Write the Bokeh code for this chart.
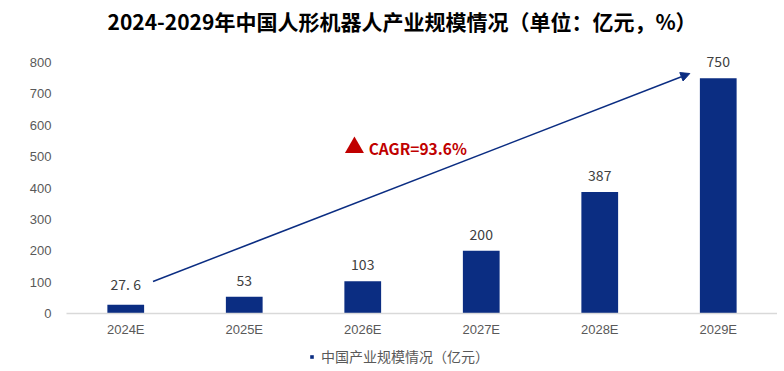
import numpy as np
from bokeh.plotting import figure
from bokeh.layouts import column
from bokeh.models import (Range1d, FixedTicker, Label, Arrow, NormalHead, Legend, LegendItem,
                          ColumnDataSource, Title)
from bokeh.core.properties import value
from bokeh.embed import file_html
from bokeh.resources import INLINE

categories = ["2024E", "2025E", "2026E", "2027E", "2028E", "2029E"]
values = [27.6, 53, 103, 200, 387, 750]
value_labels = ["27. 6", "53", "103", "200", "387", "750"]
y_ticks = [0, 100, 200, 300, 400, 500, 600, 700, 800]
title_text = "2024-2029年中国人形机器人产业规模情况（单位：亿元，%）"
series_name = "中国产业规模情况（亿元）"
cagr_text = "CAGR=93.6%"

BAR = "#0B2D82"
RED = "#C00000"
GREY = "#595959"

xs = np.arange(len(categories))
src = ColumnDataSource(dict(x=xs, top=values, lab=value_labels))

p = figure(frame_width=711, frame_height=261, output_backend="svg", toolbar_location=None,
           x_range=Range1d(-0.5, len(categories) - 0.5), y_range=Range1d(0, 832),
           min_border_left=66, min_border_right=0, min_border_top=52, min_border_bottom=27)
p.outline_line_color = None
p.xgrid.grid_line_color = None
p.ygrid.grid_line_color = None
p.background_fill_color = "white"
p.border_fill_color = "white"

p.title = Title(text=title_text, align="left", offset=41, text_font="Noto Sans CJK SC",
                text_font_style="bold", text_font_size="21px", text_color="#000000",
                standoff=6)
# blank spacer between the title and the plot area
p.add_layout(Title(text=" ", text_font="Liberation Sans", text_font_size="8px", standoff=3), "above")

r = p.vbar(x="x", top="top", width=0.31, source=src, fill_color=BAR, line_color=None)
p.text(x="x", y="top", text="lab", source=src, text_align="center", text_baseline="bottom",
       y_offset=-11, text_font=value("Noto Sans CJK SC"), text_font_size="14px", text_color="#404040")

# axes
p.xaxis.ticker = FixedTicker(ticks=list(xs))
p.xaxis.major_label_overrides = {int(i): c for i, c in zip(xs, categories)}
p.xaxis.axis_line_color = "#D9D9D9"
p.xaxis.axis_line_width = 1.5
p.xaxis.major_tick_line_color = None
p.xaxis.major_tick_out = 0
p.xaxis.major_tick_in = 0
p.xaxis.minor_tick_line_color = None
p.xaxis.major_label_text_font = "Liberation Sans"
p.xaxis.major_label_text_font_size = "13px"
p.xaxis.major_label_text_color = GREY
p.xaxis.major_label_standoff = 8

p.yaxis.ticker = FixedTicker(ticks=y_ticks)
p.yaxis.axis_line_color = None
p.yaxis.major_tick_line_color = None
p.yaxis.major_tick_out = 0
p.yaxis.major_tick_in = 0
p.yaxis.minor_tick_line_color = None
p.yaxis.major_label_text_font = "Liberation Sans"
p.yaxis.major_label_text_font_size = "13px"
p.yaxis.major_label_text_color = GREY
p.yaxis.major_label_standoff = 15

# growth arrow
p.add_layout(Arrow(end=NormalHead(size=9, fill_color=BAR, line_color=BAR),
                   x_start=0.23, y_start=102, x_end=4.76, y_end=765,
                   line_color=BAR, line_width=1.5))

# CAGR annotation
p.scatter(x=[1.93], y=[529], marker="triangle", size=19, fill_color=RED, line_color=None)
p.add_layout(Label(x=2.05, y=529, text=cagr_text, text_baseline="middle", text_align="left",
                   text_font="Noto Sans CJK SC", text_font_style="bold", text_font_size="15.5px",
                   text_color=RED))

# legend strip below the chart (its key glyph sits outside the visible range)
leg = figure(width=777, height=31, output_backend="svg", toolbar_location=None,
             x_axis_type=None, y_axis_type=None, x_range=Range1d(0, 1), y_range=Range1d(0, 1),
             min_border_left=0, min_border_right=0, min_border_top=0, min_border_bottom=0)
leg.outline_line_color = None
leg.background_fill_color = "white"
leg.border_fill_color = "white"
sw = leg.scatter(x=[-5], y=[-5], marker="square", size=9, fill_color=BAR, line_color=None)
legend = Legend(items=[LegendItem(label=series_name, renderers=[sw])],
                location=(241, 5), orientation="horizontal",
                glyph_width=9, glyph_height=9, label_standoff=5, label_height=16,
                label_text_font="Noto Sans CJK SC", label_text_font_size="14px",
                label_text_color=GREY, padding=0, margin=0, border_line_color=None,
                background_fill_alpha=0)
leg.add_layout(legend, "center")

layout = column(p, leg, spacing=0)
open("out.html", "w").write(file_html(layout, INLINE))
